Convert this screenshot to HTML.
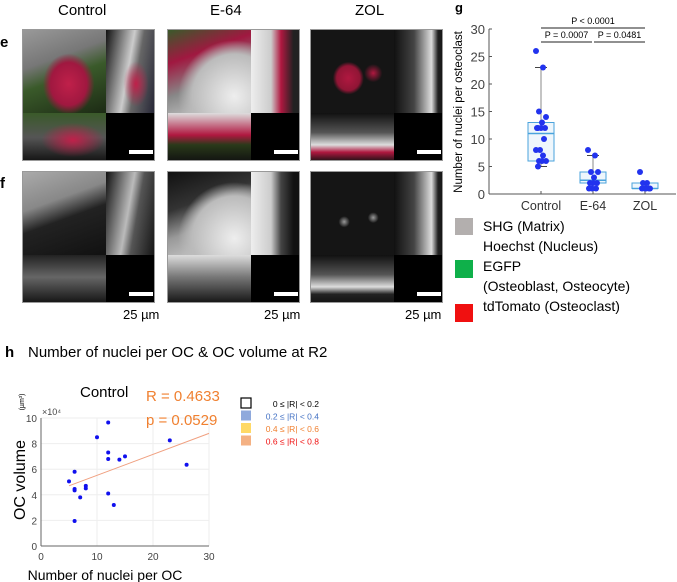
<!DOCTYPE html>
<html><head><meta charset="utf-8"><style>
body{margin:0;width:677px;height:582px;background:#fff;overflow:hidden;font-family:"Liberation Sans",sans-serif;position:relative}
.t{position:absolute;white-space:nowrap;color:#000}
.panel{position:absolute;width:133px;height:132px;border:1px solid #999;box-sizing:border-box;overflow:hidden;background:#000}
.q{position:absolute}
.bar{position:absolute;height:4px;background:#fff}
</style></head><body>
<div class="t" style="left:58px;top:2px;font-size:15px">Control</div>
<div class="t" style="left:210px;top:2px;font-size:15px">E-64</div>
<div class="t" style="left:355px;top:2px;font-size:15px">ZOL</div>
<div class="t" style="left:0;top:34px;font-size:15px;font-weight:bold">e</div>
<div class="t" style="left:0;top:175px;font-size:15px;font-weight:bold">f</div>
<div class="t" style="left:455px;top:0px;font-size:13px;font-weight:bold">g</div>
<div class="t" style="left:5px;top:344px;font-size:15px;font-weight:bold">h</div>

<!-- panels -->
<div class="panel" style="left:22px;top:29px">
 <div class="q" style="left:0;top:0;width:83px;height:83px;background:radial-gradient(ellipse at 55% 65%,#c0204a 0,#a01840 28%,transparent 40%),linear-gradient(160deg,#999 0,#777 35%,#3a5a2a 55%,#1c2a14 100%)"></div>
 <div class="q" style="left:83px;top:0;width:50px;height:83px;background:radial-gradient(ellipse at 60% 65%,#c0204a 0,transparent 30%),linear-gradient(100deg,#111 0,#ccc 45%,#666 60%,#223 100%)"></div>
 <div class="q" style="left:0;top:83px;width:83px;height:49px;background:radial-gradient(ellipse at 60% 55%,#c0204a 0,transparent 45%),linear-gradient(180deg,#3a5a2a,#555 50%,#111)"></div>
 <div class="bar" style="left:106px;top:120px;width:24px"></div></div>
<div class="panel" style="left:167px;top:29px">
 <div class="q" style="left:0;top:0;width:83px;height:83px;background:radial-gradient(ellipse at 80% 80%,#eee 0,#bbb 45%,transparent 60%),linear-gradient(160deg,#3a5a2a 0,#a01840 30%,#888 60%,#ddd)"></div>
 <div class="q" style="left:83px;top:0;width:50px;height:83px;background:linear-gradient(90deg,#eee 0,#ccc 40%,#b01840 60%,#222 85%)"></div>
 <div class="q" style="left:0;top:83px;width:83px;height:49px;background:linear-gradient(180deg,#ddd 0,#b01840 45%,#2a3a1a 65%,#111)"></div>
 <div class="bar" style="left:106px;top:120px;width:24px"></div></div>
<div class="panel" style="left:310px;top:29px">
 <div class="q" style="left:0;top:0;width:83px;height:83px;background:radial-gradient(ellipse at 45% 58%,#b01840 0,#901535 18%,transparent 24%),radial-gradient(circle at 75% 52%,#b01840 0,transparent 12%),#151515"></div>
 <div class="q" style="left:83px;top:0;width:50px;height:83px;background:linear-gradient(90deg,#111 0,#444 40%,#ddd 75%,#222 88%,#111)"></div>
 <div class="q" style="left:0;top:83px;width:83px;height:49px;background:linear-gradient(180deg,#111 0,#555 40%,#ddd 65%,#b01840 80%,#111)"></div>
 <div class="bar" style="left:106px;top:120px;width:24px"></div></div>
<div class="panel" style="left:22px;top:171px">
 <div class="q" style="left:0;top:0;width:83px;height:83px;background:linear-gradient(160deg,#aaa 0,#888 35%,#222 55%,#111)"></div>
 <div class="q" style="left:83px;top:0;width:50px;height:83px;background:linear-gradient(100deg,#111 0,#bbb 45%,#555 60%,#111)"></div>
 <div class="q" style="left:0;top:83px;width:83px;height:49px;background:linear-gradient(180deg,#222,#666 45%,#111)"></div>
 <div class="bar" style="left:106px;top:120px;width:24px"></div></div>
<div class="panel" style="left:167px;top:171px">
 <div class="q" style="left:0;top:0;width:83px;height:83px;background:radial-gradient(ellipse at 80% 80%,#eee 0,#bbb 45%,transparent 60%),linear-gradient(160deg,#111 0,#333 35%,#999 60%,#ddd)"></div>
 <div class="q" style="left:83px;top:0;width:50px;height:83px;background:linear-gradient(90deg,#eee 0,#ccc 40%,#444 60%,#111 85%)"></div>
 <div class="q" style="left:0;top:83px;width:83px;height:49px;background:linear-gradient(180deg,#ddd 0,#777 45%,#111)"></div>
 <div class="bar" style="left:106px;top:120px;width:24px"></div></div>
<div class="panel" style="left:310px;top:171px">
 <div class="q" style="left:0;top:0;width:83px;height:83px;background:radial-gradient(circle at 40% 60%,#999 0,transparent 8%),radial-gradient(circle at 75% 55%,#999 0,transparent 7%),#151515"></div>
 <div class="q" style="left:83px;top:0;width:50px;height:83px;background:linear-gradient(90deg,#111 0,#444 40%,#ddd 75%,#222 88%,#111)"></div>
 <div class="q" style="left:0;top:83px;width:83px;height:49px;background:linear-gradient(180deg,#111 0,#555 40%,#ddd 65%,#222 80%,#111)"></div>
 <div class="bar" style="left:106px;top:120px;width:24px"></div></div>
<div class="t" style="left:123px;top:307px;font-size:13px">25 µm</div>
<div class="t" style="left:264px;top:307px;font-size:13px">25 µm</div>
<div class="t" style="left:405px;top:307px;font-size:13px">25 µm</div>

<!-- legend -->
<div class="q" style="left:455px;top:218px;width:18px;height:17px;background:#b3afae"></div>
<div class="q" style="left:455px;top:260px;width:18px;height:18px;background:#0fb04a"></div>
<div class="q" style="left:455px;top:304px;width:18px;height:18px;background:#f01010"></div>
<div class="t" style="left:483px;top:218px;font-size:14px">SHG (Matrix)</div>
<div class="t" style="left:483px;top:238px;font-size:14px">Hoechst (Nucleus)</div>
<div class="t" style="left:483px;top:258px;font-size:14px">EGFP</div>
<div class="t" style="left:483px;top:278px;font-size:14px">(Osteoblast, Osteocyte)</div>
<div class="t" style="left:483px;top:298px;font-size:14px">tdTomato (Osteoclast)</div>

<div class="t" style="left:28px;top:344px;font-size:15px">Number of nuclei per OC &amp; OC volume at R2</div>

<svg id="g" width="677" height="582" style="position:absolute;left:0;top:0" font-family="Liberation Sans, sans-serif"></svg>
<script>
const groups=["Control","E-64","ZOL"];
const ctrlVals=[26,23,15,14,13,12,12,12,12,10,8,8,7,6,6,6,5];
const e64Vals=[8,7,4,4,3,2,2,2,1,1,1];
const zolVals=[4,2,2,1,1,1,1,1];
const boxStats=[[5,6,11,13,23],[1,2,2.5,4,7],[1,1,1,2,2]];
const boxTicks=[0,5,10,15,20,25,30];
const scX=[5,6,6,6,6,7,8,8,10,12,12,12,12,13,14,15,23,26];
const scY=[5.05,5.8,4.45,4.35,1.95,3.8,4.7,4.5,8.5,9.65,7.3,6.8,4.1,3.2,6.75,7.0,8.25,6.35];
const fitX=[5,30];const fitY=[4.7,8.8];
const scXTicks=[0,10,20,30];const scYTicks=[0,2,4,6,8,10];
const svg=document.getElementById('g');const NS='http://www.w3.org/2000/svg';
function mk(t,a,p){const e=document.createElementNS(NS,t);for(const k in a)e.setAttribute(k,a[k]);(p||svg).appendChild(e);return e;}
// box plot
const by=v=>194-v*5.5;const bx=i=>541+i*52;
const gBox=mk('g',{});


mk('line',{x1:489,y1:194,x2:676,y2:194,stroke:'#555'},gBox);
mk('line',{x1:489,y1:29,x2:489,y2:194,stroke:'#555'},gBox);
boxTicks.forEach(v=>{mk('line',{x1:489,x2:492,y1:by(v),y2:by(v),stroke:'#555'},gBox);
 const t=mk('text',{x:485,y:by(v)+5,'text-anchor':'end','font-size':13,fill:'#444'},gBox);t.textContent=v;});
groups.forEach((g,i)=>{const t=mk('text',{x:bx(i),y:210,'text-anchor':'middle','font-size':12.5,fill:'#333'},gBox);t.textContent=g;
 mk('line',{x1:bx(i),x2:bx(i),y1:194,y2:191,stroke:'#555'},gBox);});
const yl=mk('text',{transform:'translate(462,112) rotate(-90)','text-anchor':'middle','font-size':11.5},gBox);yl.textContent='Number of nuclei per osteoclast';
[ctrlVals,e64Vals,zolVals].forEach((vals,i)=>{const s=boxStats[i];const x=bx(i);
 mk('line',{x1:x,x2:x,y1:by(s[0]),y2:by(s[4]),stroke:'#888'},gBox);
 mk('line',{x1:x-6,x2:x+6,y1:by(s[0]),y2:by(s[0]),stroke:'#444'},gBox);
 mk('line',{x1:x-6,x2:x+6,y1:by(s[4]),y2:by(s[4]),stroke:'#444'},gBox);
 const r=mk('rect',{x:x-13,y:by(s[3]),width:26,height:by(s[1])-by(s[3]),fill:'#eef6fc',stroke:'#4aa3dc'},gBox);
 
 
 mk('line',{x1:x-13,x2:x+13,y1:by(s[2]),y2:by(s[2]),stroke:'#4aa3dc','stroke-width':1.5},gBox);
 vals.forEach((v,j)=>{const c=mk('circle',{cx:x+((j*7)%11-5),cy:by(v),r:3,fill:'#2233ee'},gBox);
  
  });});
[[541,645,28,'P < 0.0001'],[541,592,42,'P = 0.0007'],[594,645,42,'P = 0.0481']].forEach(a=>{
 mk('line',{x1:a[0],x2:a[1],y1:a[2],y2:a[2],stroke:'#222'},gBox);
 const t=mk('text',{x:(a[0]+a[1])/2,y:a[2]-4,'text-anchor':'middle','font-size':9},gBox);t.textContent=a[3];});
// scatter
const sx=v=>41+v*5.6;const sy=v=>546-v*12.8;
const gS=mk('g',{});


scXTicks.forEach(v=>{mk('line',{x1:sx(v),x2:sx(v),y1:sy(0),y2:sy(10),stroke:'#eee'},gS);
 const t=mk('text',{x:sx(v),y:560,'text-anchor':'middle','font-size':10,fill:'#444'},gS);t.textContent=v;});
scYTicks.forEach(v=>{mk('line',{x1:sx(0),x2:sx(30),y1:sy(v),y2:sy(v),stroke:'#eee'},gS);
 const t=mk('text',{x:37,y:sy(v)+4,'text-anchor':'end','font-size':10,fill:'#444'},gS);t.textContent=v;});
mk('line',{x1:sx(0),x2:sx(30),y1:sy(0),y2:sy(0),stroke:'#666'},gS);
mk('line',{x1:sx(0),x2:sx(0),y1:sy(0),y2:sy(10),stroke:'#666'},gS);
mk('line',{x1:sx(fitX[0]),y1:sy(fitY[0]),x2:sx(fitX[1]),y2:sy(fitY[1]),stroke:'#f0a080'},gS);
scX.forEach((x,i)=>{const c=mk('circle',{cx:sx(x),cy:sy(scY[i]),r:2,fill:'#1010ee'},gS);
 
 });
let t;
t=mk('text',{x:42,y:415,'font-size':9,fill:'#444'},gS);t.textContent='×10⁴';
t=mk('text',{x:80,y:397,'font-size':15},gS);t.textContent='Control';
t=mk('text',{x:146,y:401,'font-size':15,fill:'#f08030'},gS);t.textContent='R = 0.4633';
t=mk('text',{x:146,y:425,'font-size':15,fill:'#f08030'},gS);t.textContent='p = 0.0529';
t=mk('text',{x:105,y:580,'text-anchor':'middle','font-size':14},gS);t.textContent='Number of nuclei per OC';
t=mk('text',{transform:'translate(25,480) rotate(-90)','text-anchor':'middle','font-size':16},gS);t.textContent='OC volume';
t=mk('text',{transform:'translate(24,402) rotate(-90)','text-anchor':'middle','font-size':7},gS);t.textContent='(µm³)';
[['#fff','#000','0 ≤ |R| < 0.2'],['#8fa9dc','#4472c4','0.2 ≤ |R| < 0.4'],['#ffd966','#f08030','0.4 ≤ |R| < 0.6'],['#f4b183','#f01010','0.6 ≤ |R| < 0.8']].forEach((a,i)=>{
 mk('rect',{x:241,y:398+i*12.5,width:10,height:10,fill:a[0],stroke:i==0?'#000':'none','stroke-width':1.2},gS);
 const tt=mk('text',{x:319,y:407+i*12.5,'text-anchor':'end','font-size':8.5,fill:a[1]},gS);tt.textContent=a[2];});
</script>
</body></html>
